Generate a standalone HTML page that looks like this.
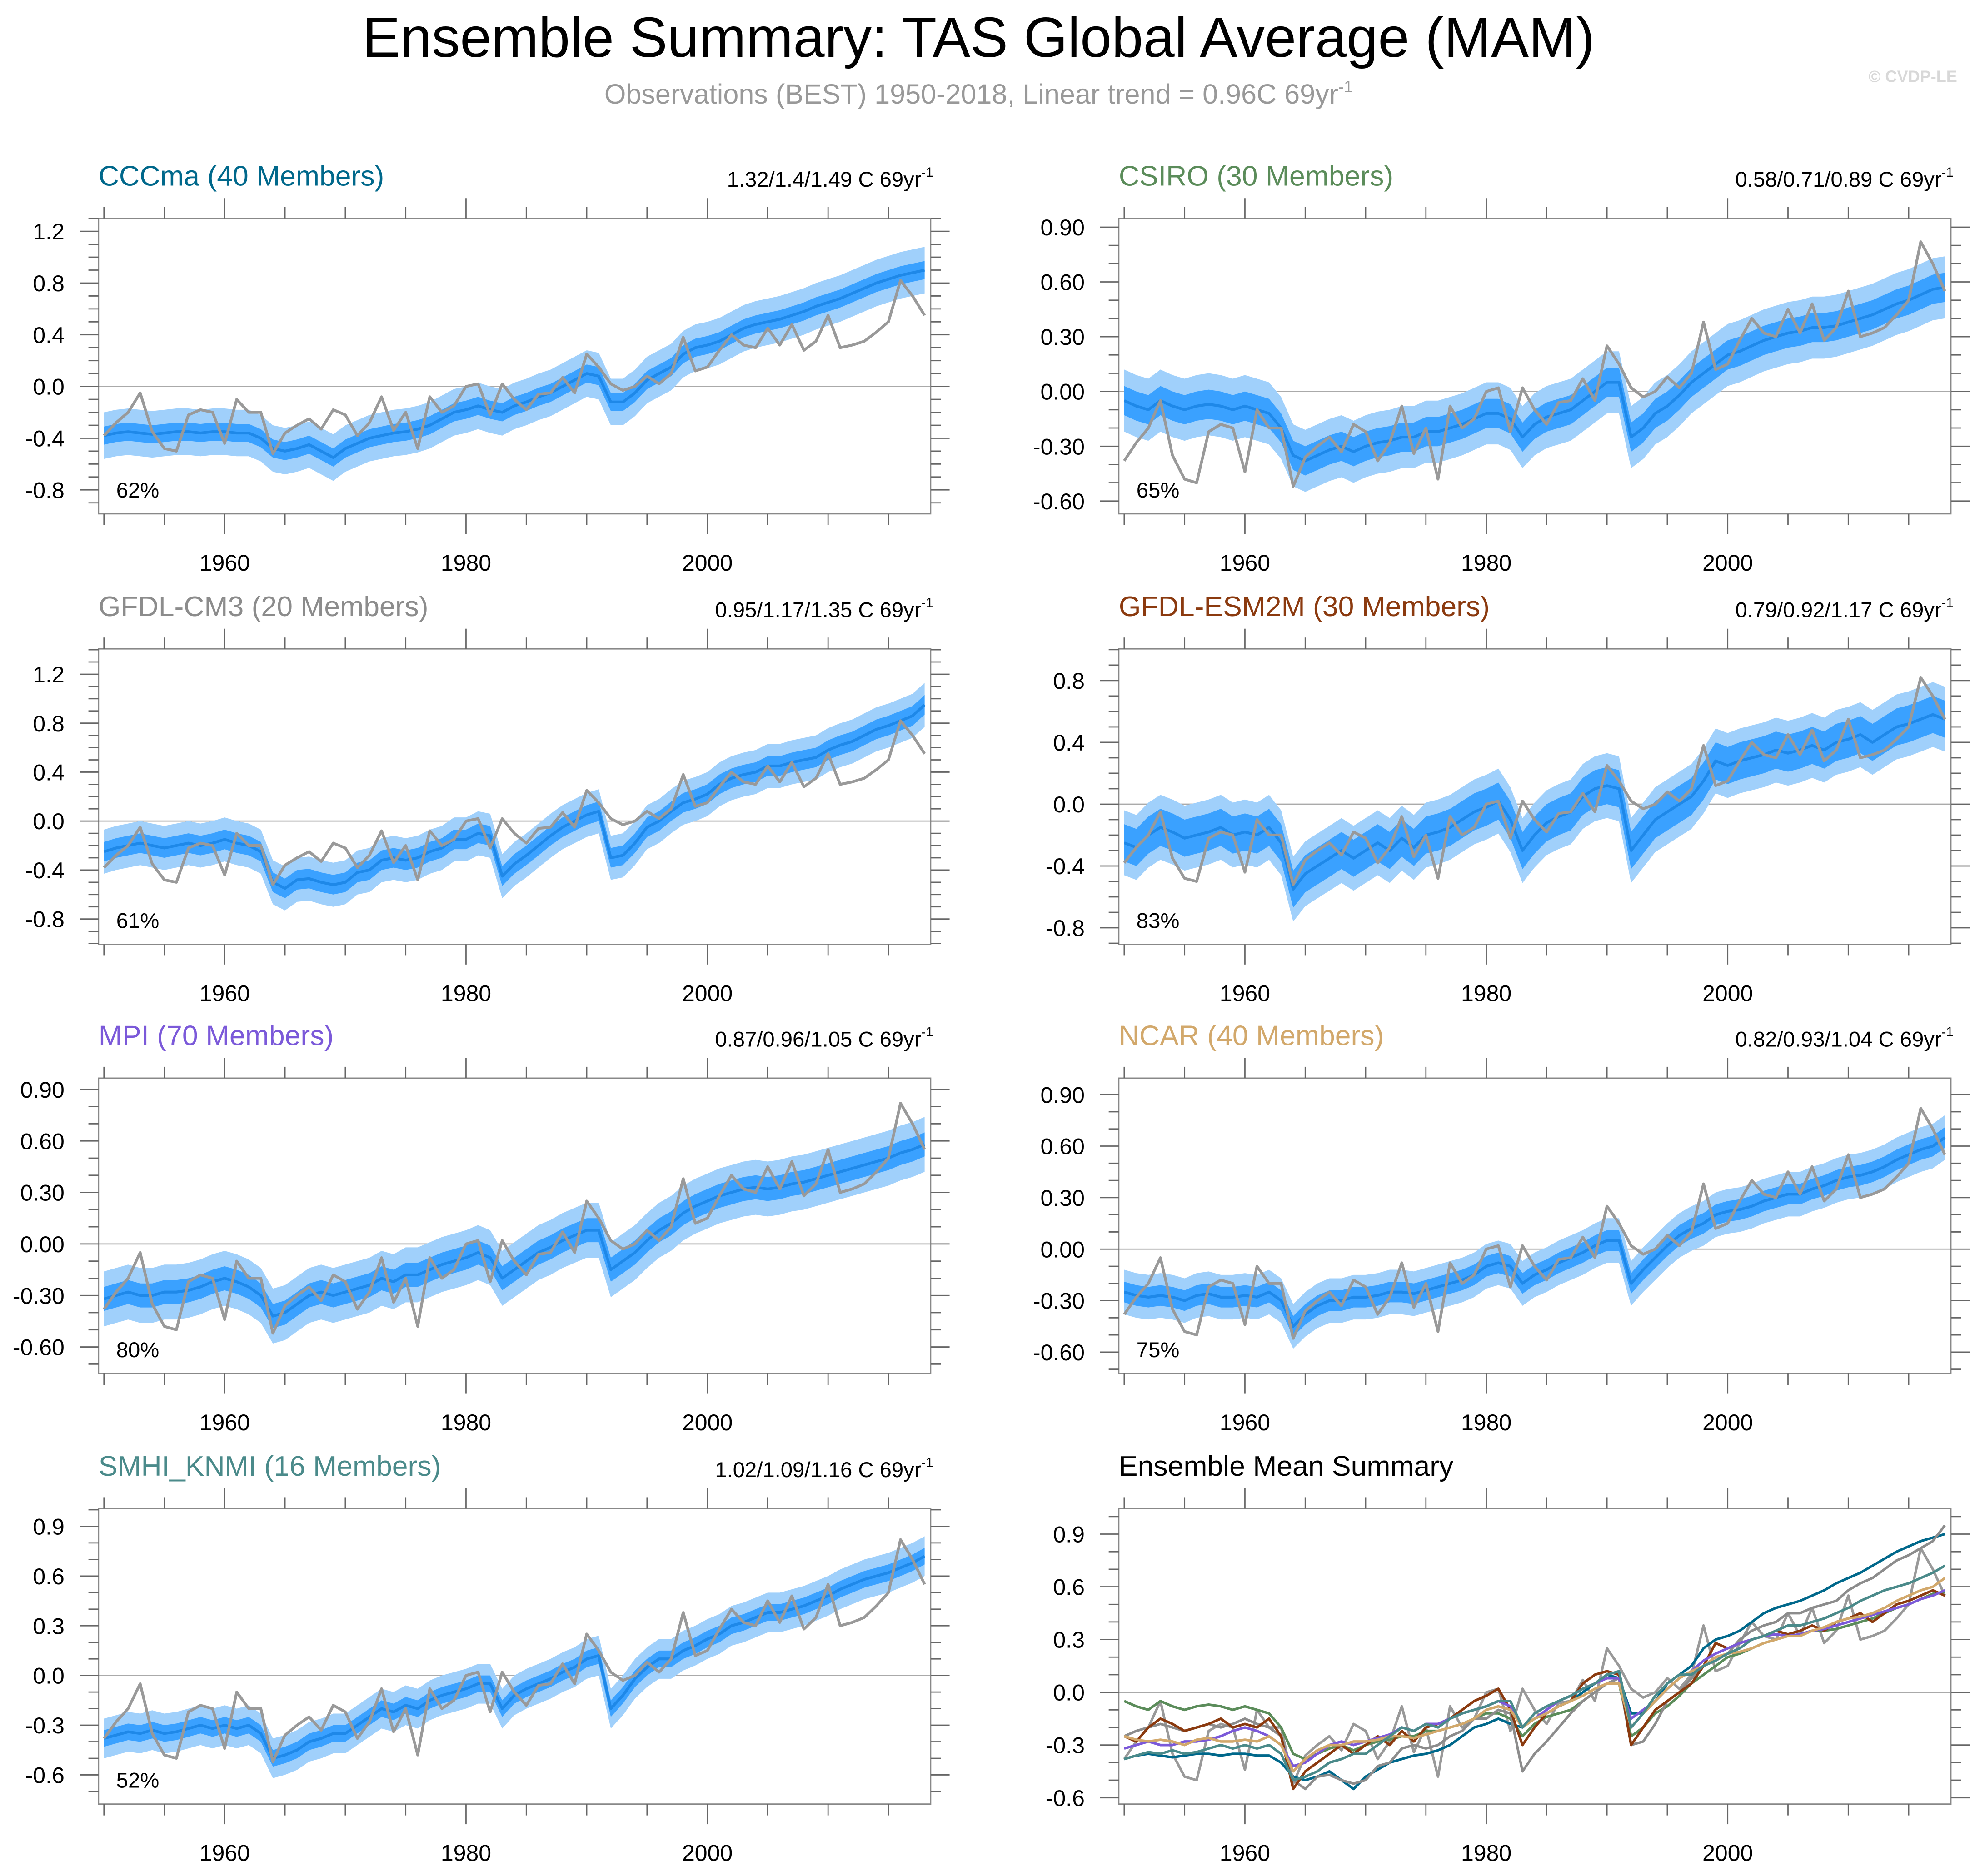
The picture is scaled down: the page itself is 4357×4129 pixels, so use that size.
<!DOCTYPE html>
<html><head><meta charset="utf-8">
<style>
html,body{margin:0;padding:0;background:#fff;}
svg{display:block;font-family:"Liberation Sans",Arial,sans-serif;}
</style></head>
<body>
<svg id="chart" xmlns="http://www.w3.org/2000/svg" width="4357" height="4129" viewBox="0 0 1568 1486">
<rect x="0" y="0" width="1568" height="1486" fill="#fff"/>
<text x="775" y="45" font-size="44.8" text-anchor="middle" fill="#000">Ensemble Summary: TAS Global Average (MAM)</text>
<text x="775" y="82" font-size="22" text-anchor="middle" fill="#999">Observations (BEST) 1950-2018, Linear trend = 0.96C 69yr<tspan dy="-9" font-size="13">-1</tspan></text>
<text x="1550" y="65" font-size="13" text-anchor="end" fill="#d8d8d8" font-weight="bold">© CVDP-LE</text>
<g id="panels"></g>
</svg>
<script>
const years = [];
for (let y = 1950; y <= 2018; y++) years.push(y);
const obs = [-0.38,-0.28,-0.2,-0.05,-0.35,-0.48,-0.5,-0.22,-0.18,-0.2,
-0.44,-0.1,-0.2,-0.2,-0.52,-0.36,-0.3,-0.25,-0.33,-0.18,
-0.22,-0.38,-0.28,-0.08,-0.34,-0.2,-0.48,-0.08,-0.2,-0.15,
0.0,0.02,-0.22,0.02,-0.1,-0.18,-0.06,-0.05,0.07,-0.05,
0.25,0.15,0.02,-0.03,0.0,0.08,0.02,0.1,0.38,0.12,
0.15,0.28,0.4,0.32,0.3,0.45,0.32,0.48,0.28,0.35,
0.55,0.3,0.32,0.35,0.42,0.5,0.82,0.7,0.55];
const modelNames = ["CCCma (40 Members)","CSIRO (30 Members)","GFDL-CM3 (20 Members)","GFDL-ESM2M (30 Members)","MPI (70 Members)","NCAR (40 Members)","SMHI_KNMI (16 Members)"];
const modelColors = ["#00688b","#5b8c5a","#8c8c8c","#8b3a0f","#7b59d9","#d2a86b","#4a8a8a"];
const trendLabels = ["1.32/1.4/1.49 C 69yr","0.58/0.71/0.89 C 69yr","0.95/1.17/1.35 C 69yr","0.79/0.92/1.17 C 69yr","0.87/0.96/1.05 C 69yr","0.82/0.93/1.04 C 69yr","1.02/1.09/1.16 C 69yr"];
const percentLabels = ["62%","65%","61%","83%","80%","75%","52%"];
const innerSpread = [0.07,0.08,0.08,0.12,0.07,0.06,0.05];
const outerSpread = [0.18,0.17,0.18,0.21,0.16,0.13,0.12];
const meanCCCma = [-0.38,-0.36,-0.35,-0.36,-0.37,-0.36,-0.35,-0.35,-0.36,-0.35,
-0.35,-0.36,-0.36,-0.40,-0.48,-0.50,-0.48,-0.45,-0.50,-0.55,
-0.48,-0.44,-0.40,-0.38,-0.36,-0.35,-0.33,-0.30,-0.25,-0.20,
-0.18,-0.15,-0.18,-0.20,-0.15,-0.12,-0.08,-0.05,0.0,0.05,
0.10,0.08,-0.12,-0.12,-0.05,0.05,0.10,0.15,0.25,0.30,
0.32,0.35,0.40,0.45,0.48,0.50,0.52,0.55,0.58,0.62,
0.65,0.68,0.72,0.76,0.80,0.83,0.86,0.88,0.90];
const meanCSIRO = [-0.05,-0.08,-0.10,-0.05,-0.08,-0.10,-0.08,-0.07,-0.08,-0.10,
-0.08,-0.10,-0.12,-0.20,-0.35,-0.38,-0.35,-0.32,-0.30,-0.33,
-0.30,-0.28,-0.27,-0.25,-0.25,-0.22,-0.22,-0.20,-0.18,-0.15,
-0.12,-0.12,-0.15,-0.25,-0.18,-0.14,-0.12,-0.10,-0.05,0.0,
0.05,0.05,-0.25,-0.20,-0.12,-0.08,-0.02,0.05,0.10,0.15,
0.20,0.22,0.25,0.28,0.30,0.32,0.33,0.35,0.35,0.36,
0.38,0.40,0.42,0.45,0.48,0.50,0.53,0.56,0.57];
const meanCM3 = [-0.25,-0.22,-0.20,-0.18,-0.20,-0.22,-0.20,-0.18,-0.20,-0.18,
-0.15,-0.18,-0.20,-0.25,-0.50,-0.55,-0.48,-0.47,-0.50,-0.52,
-0.50,-0.42,-0.40,-0.32,-0.30,-0.32,-0.30,-0.25,-0.22,-0.15,
-0.15,-0.10,-0.12,-0.45,-0.35,-0.28,-0.20,-0.12,-0.05,0.0,
0.05,0.08,-0.30,-0.28,-0.18,-0.05,0.0,0.08,0.15,0.18,
0.22,0.30,0.35,0.38,0.40,0.45,0.45,0.48,0.50,0.52,
0.58,0.62,0.65,0.70,0.75,0.78,0.82,0.86,0.95];
const meanESM2M = [-0.25,-0.28,-0.20,-0.15,-0.18,-0.22,-0.20,-0.18,-0.15,-0.20,
-0.18,-0.20,-0.15,-0.25,-0.55,-0.45,-0.40,-0.35,-0.30,-0.35,
-0.30,-0.25,-0.30,-0.22,-0.28,-0.20,-0.18,-0.15,-0.10,-0.05,
-0.02,0.02,-0.10,-0.30,-0.20,-0.12,-0.08,-0.05,0.05,0.10,
0.12,0.10,-0.30,-0.20,-0.10,-0.05,0.00,0.05,0.15,0.28,
0.25,0.28,0.30,0.32,0.35,0.33,0.35,0.38,0.35,0.40,
0.42,0.45,0.40,0.45,0.50,0.52,0.55,0.58,0.55];
const meanMPI = [-0.32,-0.30,-0.28,-0.30,-0.30,-0.28,-0.28,-0.27,-0.25,-0.22,
-0.20,-0.22,-0.25,-0.30,-0.42,-0.40,-0.35,-0.30,-0.28,-0.30,
-0.28,-0.26,-0.24,-0.20,-0.22,-0.18,-0.18,-0.15,-0.12,-0.10,
-0.08,-0.05,-0.08,-0.20,-0.15,-0.10,-0.05,-0.02,0.02,0.05,
0.08,0.08,-0.15,-0.10,-0.05,0.02,0.08,0.12,0.18,0.22,
0.25,0.28,0.30,0.32,0.33,0.32,0.33,0.35,0.36,0.38,
0.40,0.42,0.44,0.46,0.48,0.50,0.53,0.55,0.58];
const meanNCAR = [-0.25,-0.27,-0.28,-0.27,-0.28,-0.30,-0.27,-0.26,-0.28,-0.28,
-0.27,-0.28,-0.25,-0.30,-0.45,-0.38,-0.33,-0.30,-0.30,-0.28,
-0.28,-0.27,-0.25,-0.25,-0.26,-0.24,-0.22,-0.20,-0.18,-0.15,
-0.10,-0.08,-0.10,-0.20,-0.15,-0.12,-0.08,-0.05,-0.02,0.02,
0.05,0.05,-0.20,-0.12,-0.05,0.02,0.08,0.12,0.15,0.20,
0.22,0.23,0.25,0.28,0.30,0.32,0.32,0.35,0.37,0.40,
0.42,0.43,0.45,0.48,0.52,0.55,0.58,0.60,0.65];
const meanSMHI = [-0.38,-0.36,-0.34,-0.35,-0.33,-0.35,-0.34,-0.32,-0.30,-0.32,
-0.30,-0.32,-0.30,-0.35,-0.50,-0.48,-0.45,-0.40,-0.38,-0.35,
-0.35,-0.30,-0.25,-0.20,-0.22,-0.18,-0.20,-0.15,-0.12,-0.10,
-0.08,-0.05,-0.05,-0.20,-0.12,-0.08,-0.05,-0.02,0.02,0.05,
0.10,0.12,-0.20,-0.12,-0.02,0.05,0.10,0.10,0.15,0.18,
0.22,0.25,0.30,0.32,0.35,0.38,0.38,0.40,0.42,0.45,
0.48,0.52,0.55,0.58,0.60,0.62,0.65,0.68,0.72];
const means = [meanCCCma,meanCSIRO,meanCM3,meanESM2M,meanMPI,meanNCAR,meanSMHI];
const yMins = [-0.985,-0.67,-1.007,-0.907,-0.755,-0.725,-0.776,-0.636];
const yMaxs = [1.30,0.948,1.407,1.005,0.966,0.996,1.007,1.045];
const yTickLabels = [
 ["-0.8","-0.4","0.0","0.4","0.8","1.2"],
 ["-0.60","-0.30","0.00","0.30","0.60","0.90"],
 ["-0.8","-0.4","0.0","0.4","0.8","1.2"],
 ["-0.8","-0.4","0.0","0.4","0.8"],
 ["-0.60","-0.30","0.00","0.30","0.60","0.90"],
 ["-0.60","-0.30","0.00","0.30","0.60","0.90"],
 ["-0.6","-0.3","0.0","0.3","0.6","0.9"],
 ["-0.6","-0.3","0.0","0.3","0.6","0.9"]];
const yMinorStep = [0.1,0.1,0.1,0.1,0.1,0.1,0.1,0.1];
const xTickLabels = ["1960","1980","2000"];
const xMin = 1949.55, xMax = 2018.5;

const NS = "http://www.w3.org/2000/svg";
const root = document.getElementById("panels");
function mk(tag, attrs, parent){const e=document.createElementNS(NS,tag);for(const k in attrs)e.setAttribute(k,attrs[k]);(parent||root).appendChild(e);return e;}

const colX = [78, 886], boxW = 659;
const rowY = [173, 514, 854, 1195], boxH = 234;

function drawPanel(i){
  const bx = colX[i%2], by = rowY[Math.floor(i/2)];
  const g = mk("g",{});
  
  
  const xs = v => bx + (v - xMin)/(xMax - xMin)*boxW;
  const ys = v => by + boxH - (v - yMins[i])/(yMaxs[i]-yMins[i])*boxH;
  const t = mk("text",{x:bx,y:by-26,"font-size":22.5,fill:i<7?modelColors[i]:"#000"},g);
  t.textContent = i<7 ? modelNames[i] : "Ensemble Mean Summary";
  
  
  if(i<7){
    const tr = mk("text",{x:bx+boxW+2,y:by-25,"font-size":17,"text-anchor":"end",fill:"#000"},g);
    tr.textContent = trendLabels[i];
    const sup = mk("tspan",{dy:-8,"font-size":10.5},tr); sup.textContent="-1";
    
    
  }
  const z = mk("line",{x1:bx,x2:bx+boxW,y1:ys(0),y2:ys(0),stroke:"#aaa","stroke-width":1},g);
  
  
  const pts = arr => arr.map((v,k)=>xs(years[k]).toFixed(2)+","+ys(v).toFixed(2));
  if(i<7){
    const m = means[i];
    const bands = [[outerSpread[i],"#a0d0fb","outer-spread-band"],[innerSpread[i],"#3aa1ff","inner-spread-band"]];
    bands.forEach(b=>{
      const up = m.map(v=>v+b[0]), dn = m.map(v=>v-b[0]).reverse();
      const yr = years.slice().reverse();
      const p = pts(up).concat(dn.map((v,k)=>xs(yr[k]).toFixed(2)+","+ys(v).toFixed(2)));
      const poly = mk("polygon",{points:p.join(" "),fill:b[1]},g);
      
      
    });
    const ml = mk("polyline",{points:pts(m).join(" "),fill:"none",stroke:"#1e88e8","stroke-width":2.2,"stroke-linejoin":"round"},g);
    
    
    const ol = mk("polyline",{points:pts(obs).join(" "),fill:"none",stroke:"#999","stroke-width":2.2,"stroke-linejoin":"round"},g);
    
    
    const pc = mk("text",{x:bx+14,y:by+boxH-13,"font-size":17,fill:"#000"},g);
    pc.textContent = percentLabels[i];
    
    
  } else {
    const ol = mk("polyline",{points:pts(obs).join(" "),fill:"none",stroke:"#999","stroke-width":2,"stroke-linejoin":"round"},g);
    
    
    means.forEach((m,k)=>{
      const l = mk("polyline",{points:pts(m).join(" "),fill:"none",stroke:modelColors[k],"stroke-width":2,"stroke-linejoin":"round"},g);
      
      
    });
  }
  const box = mk("rect",{x:bx,y:by,width:boxW,height:boxH,fill:"none",stroke:"#888","stroke-width":1},g);
  
  
  for(let yr=1950; yr<=2015; yr+=5){
    const x = xs(yr), L = (yr%20===0)?16:9;
    mk("line",{x1:x,x2:x,y1:by,y2:by-L,stroke:"#666","stroke-width":1},g);
    mk("line",{x1:x,x2:x,y1:by+boxH,y2:by+boxH+L,stroke:"#666","stroke-width":1},g);
  }
  xTickLabels.forEach(s=>{
    const tl = mk("text",{x:xs(+s),y:by+boxH+45,"font-size":18,"text-anchor":"middle",fill:"#000"},g);
    tl.textContent = s;
    
    
  });
  const step = yMinorStep[i];
  for(let k=Math.ceil(yMins[i]/step); k*step<=yMaxs[i]; k++){
    const v = k*step, y = ys(v);
    const major = yTickLabels[i].some(s=>Math.abs(parseFloat(s)-v)<1e-6);
    const L = major?15:8;
    mk("line",{x1:bx,x2:bx-L,y1:y,y2:y,stroke:"#666","stroke-width":1},g);
    mk("line",{x1:bx+boxW,x2:bx+boxW+L,y1:y,y2:y,stroke:"#666","stroke-width":1},g);
  }
  yTickLabels[i].forEach(s=>{
    const tl = mk("text",{x:bx-27,y:ys(parseFloat(s))+6.5,"font-size":18,"text-anchor":"end",fill:"#000"},g);
    tl.textContent = s;
    
    
  });
}
for(let i=0;i<8;i++) drawPanel(i);
</script>
</body></html>
